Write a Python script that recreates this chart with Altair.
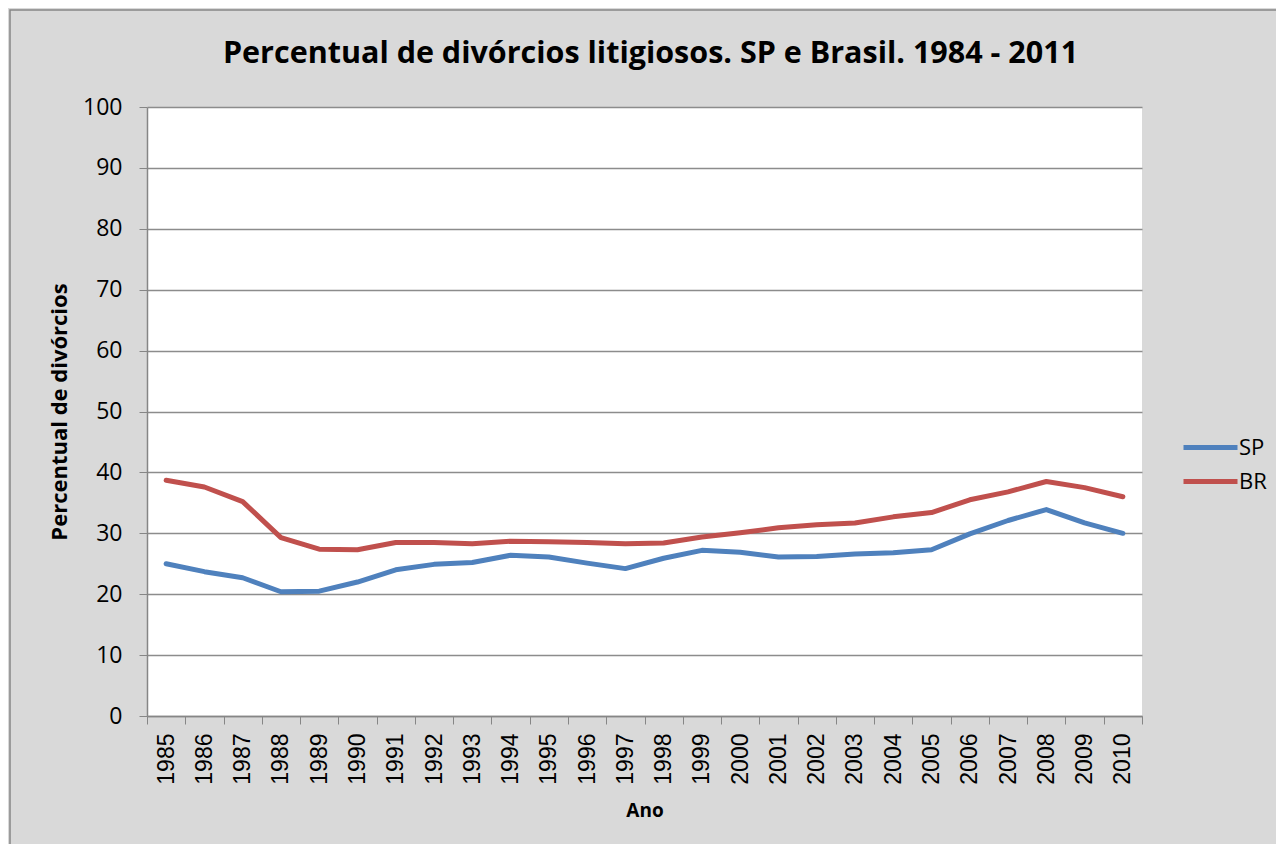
import altair as alt
import pandas as pd

anos = list(range(1985, 2011))
sp = [25.0, 23.7, 22.7, 20.4, 20.5, 22.0, 24.0, 24.9, 25.2, 26.4, 26.1, 25.1, 24.2,
      25.9, 27.2, 26.9, 26.1, 26.2, 26.6, 26.8, 27.3, 29.9, 32.1, 33.9, 31.7, 30.0]
br = [38.7, 37.6, 35.2, 29.3, 27.4, 27.3, 28.5, 28.5, 28.3, 28.7, 28.6, 28.5, 28.3,
      28.4, 29.4, 30.1, 30.9, 31.4, 31.7, 32.7, 33.4, 35.5, 36.8, 38.5, 37.5, 36.0]
series = ["SP", "BR"]
colors = ["#4F81BD", "#C0504D"]
y_ticks = list(range(0, 101, 10))
titulo = "Percentual de divórcios litigiosos. SP e Brasil. 1984 - 2011"

rows = []
for i, a in enumerate(anos):
    rows.append({"ano": str(a), "serie": "SP", "valor": sp[i]})
    rows.append({"ano": str(a), "serie": "BR", "valor": br[i]})
df = pd.DataFrame(rows)

W, H = 995, 609

lines = alt.Chart(df).mark_line(strokeWidth=5, strokeCap="round", strokeJoin="round").encode(
    x=alt.X("ano:O", scale=alt.Scale(type="band", paddingInner=0, paddingOuter=0),
            axis=alt.Axis(title="Ano", labelAngle=-90, tickBand="extent", tickSize=8,
                          tickColor="#868686", domainColor="#868686", domainWidth=1.5,
                          labelFont="Liberation Sans", labelFontSize=23, labelColor="black",
                          labelPadding=9, grid=False,
                          titleFont="Open Sans", titleFontSize=19, titleFontWeight="bold",
                          titleColor="black", titleX=W / 2, titleY=94,
                          titleBaseline="middle", titleAlign="center")),
    y=alt.Y("valor:Q", scale=alt.Scale(domain=[0, 100], nice=False),
            axis=alt.Axis(title="Percentual de divórcios", values=y_ticks, tickSize=8,
                          tickColor="#868686", domainColor="#868686", domainWidth=1.5,
                          gridColor="#8c8c8c", gridWidth=1.3,
                          labelFont="Open Sans", labelFontSize=23, labelColor="black",
                          labelPadding=17,
                          titleFont="Open Sans", titleFontSize=22, titleFontWeight="bold",
                          titleColor="black", titleAngle=-90, titleX=-88, titleY=H / 2,
                          titleBaseline="middle", titleAlign="center")),
    color=alt.Color("serie:N", scale=alt.Scale(domain=series, range=colors),
                    legend=alt.Legend(title=None, orient="none", legendX=1041, legendY=318,
                                      symbolType="M-1.35,0H1.35", symbolSize=1600,
                                      symbolStrokeWidth=5, rowPadding=0, padding=0,
                                      labelOffset=6, labelFont="Open Sans",
                                      labelFontSize=22, labelColor="black",
                                      labelBaseline="middle")),
    order=alt.Order("ano:O"),
)

border = alt.Chart(alt.Data(values=[{"b": 1}])).mark_rect(
    fill=None, stroke="#868686", strokeWidth=1.5
).encode(
    x=alt.value(-137), x2=alt.value(1300), y=alt.value(-97), y2=alt.value(900)
)

title = alt.Chart(alt.Data(values=[{"t": titulo}])).mark_text(
    font="Open Sans", fontSize=30.5, fontWeight="bold", color="black",
    align="center", baseline="middle"
).encode(
    text="t:N", x=alt.value(W / 2 + 6), y=alt.value(-53)
)

chart = alt.layer(border, lines, title).properties(
    width=W, height=H,
    autosize=alt.AutoSizeParams(type="none"),
    padding={"left": 139, "top": 99, "right": 134, "bottom": 128},
    background="#d9d9d9",
).configure_view(fill="white", stroke=None)

chart.save("out.html", embed_options={"renderer": "svg", "actions": False})
